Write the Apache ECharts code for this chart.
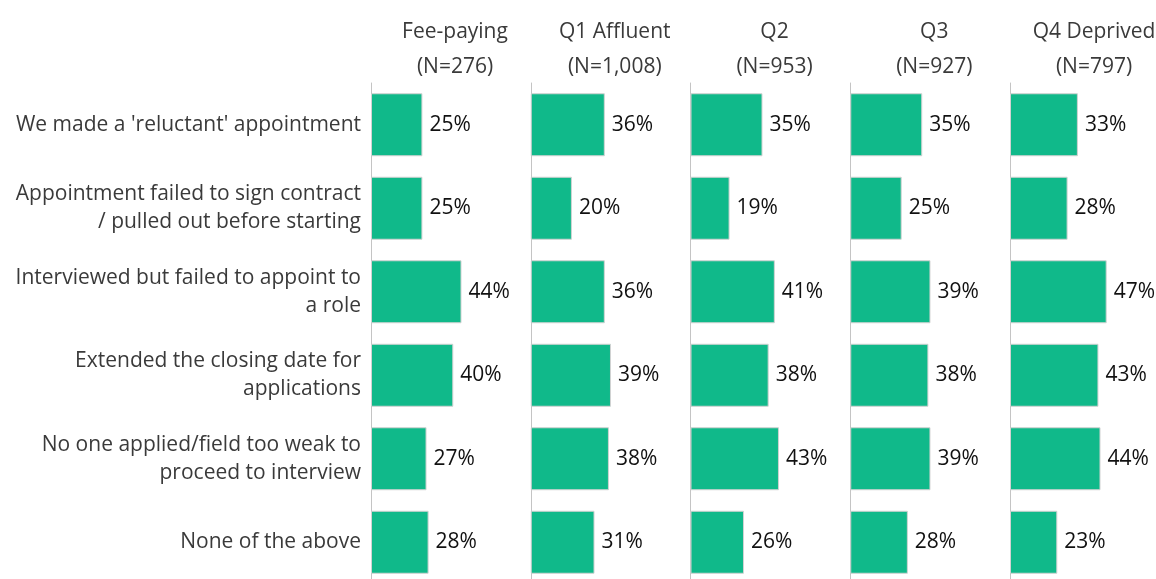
<!DOCTYPE html>
<html><head><meta charset="utf-8">
<script src="https://cdn.jsdelivr.net/npm/echarts@6/dist/echarts.min.js"></script>
<style>html,body{margin:0;padding:0;background:#fff;overflow:hidden}#c{width:1156px;height:584px}</style>
</head><body><div id="c"></div>
<script>
const categories = [
  "We made a 'reluctant' appointment",
  "Appointment failed to sign contract\n/ pulled out before starting",
  "Interviewed but failed to appoint to\na role",
  "Extended the closing date for\napplications",
  "No one applied/field too weak to\nproceed to interview",
  "None of the above"
];
const groups = ["Fee-paying\n(N=276)", "Q1 Affluent\n(N=1,008)", "Q2\n(N=953)", "Q3\n(N=927)", "Q4 Deprived\n(N=797)"];
const feePaying = [25, 25, 44, 40, 27, 28];
const q1Affluent = [36, 20, 36, 39, 38, 31];
const q2 = [35, 19, 41, 38, 43, 26];
const q3 = [35, 25, 39, 38, 39, 28];
const q4Deprived = [33, 28, 47, 43, 44, 23];
const seriesValues = [feePaying, q1Affluent, q2, q3, q4Deprived];

const FONT = 'Open Sans';
const chart = echarts.init(document.getElementById('c'));
const grids = [], xAxes = [], yAxes = [], series = [], titles = [];
seriesValues.forEach((vals, i) => {
  const left = 371 + i * 159.75;
  grids.push({left: left, top: 83, width: 144, bottom: 0, containLabel: false, outerBoundsMode: 'none'});
  xAxes.push({type: 'value', gridIndex: i, min: 0, max: 70, show: false});
  yAxes.push({
    type: 'category', gridIndex: i, data: categories, inverse: true,
    axisLine: {show: true, lineStyle: {color: '#c4c4c4', width: 1}},
    axisTick: {show: false},
    axisLabel: i === 0 ? {show: true, margin: 10, color: '#3a3a3a', fontSize: 21, fontFamily: FONT, lineHeight: 28, align: 'right'} : {show: false}
  });
  series.push({
    type: 'bar', xAxisIndex: i, yAxisIndex: i, data: vals, barWidth: 63,
    itemStyle: {color: '#10b98a', borderColor: '#d2d2d2', borderWidth: 1},
    label: {show: true, position: 'right', distance: 7, formatter: '{c}%', color: '#111', fontSize: 21, fontFamily: FONT},
    silent: true, animation: false
  });
  titles.push({
    text: groups[i], left: left + 79, top: 10, textAlign: 'center',
    textStyle: {color: '#3a3a3a', fontSize: 21, fontWeight: 'normal', fontFamily: FONT, lineHeight: 35}
  });
});
chart.setOption({
  animation: false,
  title: titles, grid: grids, xAxis: xAxes, yAxis: yAxes, series: series
});
</script></body></html>
